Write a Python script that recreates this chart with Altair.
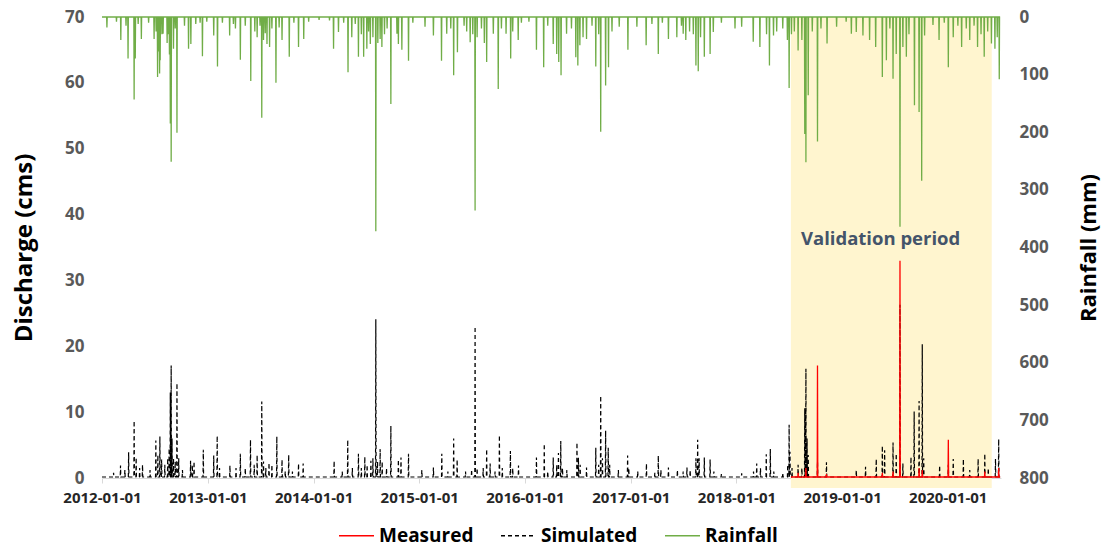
import altair as alt
import pandas as pd

# ---------------- data ----------------
rain_dates = [
    "2012-01-18", "2012-02-20", "2012-03-06", "2012-03-24", "2012-03-31", "2012-04-21", "2012-04-25", "2012-05-05",
    "2012-05-16", "2012-06-10", "2012-06-29", "2012-07-06", "2012-07-11", "2012-07-15", "2012-07-18", "2012-07-20",
    "2012-07-26", "2012-07-30", "2012-08-13", "2012-08-17", "2012-08-21", "2012-08-24", "2012-08-27", "2012-09-04",
    "2012-09-10", "2012-09-16", "2012-10-12", "2012-10-26", "2012-11-03", "2012-11-20", "2012-12-05", "2012-12-13",
    "2012-12-28",
    "2013-01-21", "2013-02-03", "2013-02-20", "2013-03-17", "2013-03-30", "2013-04-06", "2013-04-23", "2013-05-10",
    "2013-05-29", "2013-06-12", "2013-06-20", "2013-06-30", "2013-07-06", "2013-07-12", "2013-07-18", "2013-07-24",
    "2013-08-02", "2013-08-10", "2013-08-24", "2013-09-04", "2013-09-14", "2013-10-09", "2013-10-25", "2013-11-10",
    "2013-11-28", "2013-12-15",
    "2014-01-20", "2014-02-25", "2014-03-11", "2014-03-28", "2014-04-15", "2014-04-30", "2014-05-13", "2014-05-25",
    "2014-06-05", "2014-06-15", "2014-06-23", "2014-07-04", "2014-07-10", "2014-07-16", "2014-07-25", "2014-08-04",
    "2014-08-11", "2014-08-19", "2014-08-25", "2014-09-03", "2014-09-12", "2014-09-25", "2014-10-16", "2014-10-21",
    "2014-11-02", "2014-11-25", "2014-12-10",
    "2015-01-21", "2015-02-19", "2015-03-19", "2015-04-06", "2015-04-20", "2015-04-30", "2015-05-13", "2015-06-05",
    "2015-06-14", "2015-06-26", "2015-07-05", "2015-07-13", "2015-07-20", "2015-08-04", "2015-08-14", "2015-08-22",
    "2015-09-14", "2015-10-01", "2015-10-12", "2015-10-28", "2015-11-13", "2015-11-20", "2015-12-09", "2015-12-20",
    "2016-01-15", "2016-02-10", "2016-03-06", "2016-03-20", "2016-04-08", "2016-04-20", "2016-04-27", "2016-05-05",
    "2016-05-24", "2016-06-10", "2016-06-25", "2016-07-02", "2016-07-09", "2016-07-20", "2016-08-01", "2016-08-20",
    "2016-09-02", "2016-09-12", "2016-09-19", "2016-10-06", "2016-10-16", "2016-10-28", "2016-11-22", "2016-12-22",
    "2017-01-22", "2017-02-23", "2017-03-15", "2017-04-06", "2017-04-20", "2017-05-11", "2017-06-09", "2017-06-25",
    "2017-07-01", "2017-07-10", "2017-07-23", "2017-08-05", "2017-08-14", "2017-08-22", "2017-08-30", "2017-09-12",
    "2017-10-02", "2017-10-13", "2017-11-10", "2017-12-27",
    "2018-01-19", "2018-02-28", "2018-03-23", "2018-04-15", "2018-04-25", "2018-05-09", "2018-05-20", "2018-06-10",
    "2018-06-26", "2018-07-02", "2018-07-10", "2018-07-20", "2018-08-02", "2018-08-15", "2018-08-25", "2018-08-29",
    "2018-09-06", "2018-09-20", "2018-10-08", "2018-10-20", "2018-11-10", "2018-12-13",
    "2019-01-15", "2019-02-02", "2019-02-19", "2019-03-14", "2019-04-06", "2019-04-27", "2019-05-20", "2019-06-03",
    "2019-06-15", "2019-06-26", "2019-07-07", "2019-07-20", "2019-07-30", "2019-08-11", "2019-08-20", "2019-09-08",
    "2019-09-24", "2019-10-03", "2019-10-13", "2019-11-11", "2019-12-02", "2019-12-20",
    "2020-01-03", "2020-01-20", "2020-02-05", "2020-02-18", "2020-03-05", "2020-03-17", "2020-04-01", "2020-04-13",
    "2020-04-25", "2020-05-06", "2020-05-18", "2020-05-31", "2020-06-12", "2020-06-20", "2020-06-27",
]
rain_mm = [
    18, 8, 40, 15, 72, 143, 72, 12,
    38, 10, 38, 25, 104, 60, 98, 75,
    30, 29, 45, 30, 65, 185, 251, 55,
    20, 201, 15, 55, 47, 12, 10, 68,
    8,
    32, 86, 10, 32, 12, 20, 74, 15,
    111, 25, 35, 15, 175, 40, 28, 47,
    52, 20, 114, 18, 40, 69, 10, 52,
    38, 8,
    5, 6, 55, 26, 10, 96, 35, 12,
    69, 30, 69, 55, 25, 47, 35, 372,
    45, 38, 52, 30, 20, 151, 29, 47,
    57, 76, 10,
    17, 32, 76, 29, 20, 101, 61, 15,
    25, 44, 30, 336, 35, 20, 45, 78,
    29, 125, 20, 29, 72, 25, 40, 10,
    8, 57, 87, 15, 47, 64, 78, 101,
    29, 20, 70, 84, 49, 35, 38, 15,
    86, 30, 199, 119, 87, 25, 17, 57,
    17, 49, 12, 64, 10, 38, 35, 15,
    29, 40, 25, 30, 84, 94, 35, 69,
    64, 26, 10, 20,
    17, 43, 52, 30, 84, 32, 25, 20,
    40, 123, 30, 25, 58, 40, 203, 252,
    136, 25, 216, 20, 46, 17,
    8, 29, 26, 32, 40, 52, 104, 75,
    20, 107, 64, 364, 52, 69, 30, 153,
    165, 284, 32, 14, 40, 10,
    87, 35, 15, 52, 20, 40, 15, 52,
    30, 69, 25, 46, 55, 35, 108,
]

sim_dates = [
    "2012-02-10", "2012-03-05", "2012-03-20", "2012-04-02", "2012-04-21", "2012-04-28", "2012-05-10", "2012-05-20",
    "2012-06-15", "2012-07-05", "2012-07-12", "2012-07-19", "2012-07-25", "2012-08-05", "2012-08-15", "2012-08-20",
    "2012-08-24", "2012-08-27", "2012-08-30", "2012-09-04", "2012-09-10", "2012-09-16", "2012-09-22", "2012-10-05",
    "2012-11-02", "2012-11-08", "2012-11-14", "2012-12-16",
    "2013-01-21", "2013-02-02", "2013-02-10", "2013-03-18", "2013-04-08", "2013-04-23", "2013-05-10", "2013-05-28",
    "2013-06-10", "2013-06-20", "2013-07-06", "2013-07-12", "2013-07-20", "2013-07-31", "2013-08-10", "2013-08-27",
    "2013-09-14", "2013-09-25", "2013-10-07", "2013-10-20", "2013-11-10", "2013-11-26",
    "2014-03-13", "2014-04-10", "2014-04-29", "2014-05-15", "2014-06-05", "2014-06-15", "2014-06-27", "2014-07-05",
    "2014-07-18", "2014-07-25", "2014-08-04", "2014-08-10", "2014-08-19", "2014-08-26", "2014-09-10", "2014-09-25",
    "2014-10-21", "2014-10-30", "2014-11-25",
    "2015-01-10", "2015-02-19", "2015-03-20", "2015-04-10", "2015-04-30", "2015-05-12", "2015-06-10", "2015-07-01",
    "2015-07-13", "2015-07-20", "2015-08-10", "2015-08-22", "2015-09-03", "2015-09-20", "2015-10-05", "2015-10-15",
    "2015-11-12", "2015-11-20", "2015-12-10",
    "2016-02-10", "2016-03-08", "2016-03-20", "2016-04-08", "2016-04-20", "2016-04-26", "2016-05-04", "2016-05-10",
    "2016-05-25", "2016-06-29", "2016-07-04", "2016-07-10", "2016-08-01", "2016-09-02", "2016-09-12", "2016-09-19",
    "2016-09-25", "2016-10-06", "2016-10-15", "2016-10-20", "2016-11-19", "2016-12-21", "2016-12-25",
    "2017-01-25", "2017-02-24", "2017-03-25", "2017-04-06", "2017-04-15", "2017-05-11", "2017-06-11", "2017-07-01",
    "2017-07-14", "2017-07-25", "2017-08-14", "2017-08-20", "2017-08-25", "2017-09-12", "2017-10-02", "2017-10-15",
    "2017-11-10",
    "2018-01-19", "2018-03-01", "2018-03-12", "2018-03-25", "2018-04-14", "2018-04-28", "2018-05-10", "2018-06-10",
    "2018-06-27", "2018-07-02", "2018-07-05", "2018-07-12", "2018-08-02", "2018-08-15", "2018-08-25", "2018-08-29",
    "2018-09-02", "2018-09-06", "2018-10-08", "2018-11-08",
    "2019-02-19", "2019-03-23", "2019-04-29", "2019-05-20", "2019-05-28", "2019-06-26", "2019-07-07", "2019-07-20",
    "2019-07-30", "2019-08-27", "2019-09-07", "2019-09-24", "2019-10-05", "2019-10-10", "2019-12-04",
    "2020-01-03", "2020-01-20", "2020-02-24", "2020-03-17", "2020-04-15", "2020-05-08", "2020-05-20", "2020-06-14",
    "2020-06-25",
]
sim_cms = [
    0.8, 1.9, 1.2, 3.9, 8.7, 3.1, 1.5, 2.0,
    1.2, 5.7, 3.5, 6.3, 2.8, 2.0, 3.0, 4.5,
    13.0, 17.1, 6.0, 3.0, 2.5, 14.4, 3.0, 1.2,
    2.6, 2.0, 2.5, 4.3,
    3.4, 6.4, 1.5, 1.9, 1.5, 3.7, 1.5, 5.8,
    2.0, 3.5, 11.6, 2.5, 1.5, 2.3, 2.0, 6.3,
    2.8, 1.0, 3.5, 1.0, 2.2, 2.2,
    2.6, 1.0, 5.8, 1.5, 3.7, 1.5, 3.2, 2.0,
    2.6, 3.0, 24.1, 2.5, 4.4, 2.5, 1.5, 7.9,
    2.8, 3.1, 3.7,
    1.2, 1.6, 3.7, 1.0, 6.0, 2.8, 1.0, 1.3,
    23.0, 1.5, 1.5, 4.4, 2.2, 1.0, 6.5, 1.5,
    4.1, 1.5, 1.9,
    3.1, 5.2, 1.0, 3.1, 2.0, 3.8, 5.6, 1.5,
    1.2, 5.4, 3.1, 2.0, 1.6, 4.6, 2.0, 12.5,
    3.0, 7.2, 4.6, 2.0, 1.2, 3.4, 1.5,
    1.0, 2.2, 0.8, 3.4, 1.2, 1.6, 1.2, 1.0,
    1.6, 1.2, 3.0, 5.8, 3.0, 3.1, 2.8, 1.0,
    0.6,
    0.7, 1.0, 2.2, 1.5, 3.6, 4.4, 1.0, 0.8,
    2.0, 8.1, 4.0, 1.5, 2.0, 1.5, 10.6, 16.6,
    6.0, 3.5, 2.5, 2.4,
    1.2, 1.7, 2.9, 4.9, 4.2, 5.4, 3.7, 26.3,
    2.2, 3.2, 10.1, 11.7, 20.3, 3.0, 1.9,
    2.0, 2.9, 2.9, 1.2, 2.9, 3.7, 1.5, 2.9,
    5.9,
]

obs_dates = [
    "2018-08-02", "2018-08-29", "2018-10-08", "2018-11-08", "2019-05-20", "2019-06-26",
    "2019-07-20", "2019-09-24", "2019-10-05", "2020-01-03", "2020-05-08", "2020-06-25",
]
obs_cms = [0.8, 1.5, 17.1, 0.6, 0.8, 1.0, 33.0, 1.5, 1.2, 5.8, 1.0, 1.5]

sim_base = 0.15
obs_base = 0.15
series_names = ["Measured", "Simulated", "Rainfall"]
series_colors = ["#FF0000", "#000000", "#70AD47"]
valid_start, valid_end = "2018/07/08", "2020/06/01"
valid_label = "Validation period"

# ---------------- build daily tables ----------------
days = pd.date_range("2012-01-01", "2020-06-30", freq="D")


def daily(dates, vals, base, start=None):
    s = pd.Series(float(base), index=days)
    ev = pd.Series(vals, index=pd.to_datetime(dates), dtype=float).groupby(level=0).max()
    s.loc[ev.index] = ev.values
    if start is not None:
        s = s[s.index >= pd.Timestamp(start)]
    return pd.DataFrame({"date": s.index.strftime("%Y/%m/%d"), "value": s.values})


rain_df = daily(rain_dates, rain_mm, 0.0).assign(series="Rainfall")
sim_df = daily(sim_dates, sim_cms, sim_base).assign(series="Simulated")
obs_df = daily(obs_dates, obs_cms, obs_base, start=valid_start).assign(series="Measured")

FONT = "Open Sans"
W, H = 899, 461

x_dom = [alt.DateTime(year=2012, month=1, date=1), alt.DateTime(year=2020, month=7, date=3)]
x_vals = [alt.DateTime(year=y, month=1, date=1) for y in range(2012, 2021)]

x_enc = alt.X(
    "date:T",
    scale=alt.Scale(domain=x_dom),
    axis=alt.Axis(
        values=x_vals, format="%Y-%m-%d", title=None, grid=False,
        labelFontSize=15, labelFontWeight="bold", labelColor="#262626", labelFont=FONT,
        labelPadding=7, domainColor="#D9D9D9", tickColor="#D9D9D9", tickSize=5, labelFlush=False,
    ),
)

legend_cfg = alt.Legend(
    title=None, orient="none", direction="horizontal", legendX=236, legendY=500,
    symbolType="stroke", symbolSize=1225, symbolStrokeWidth=1.5,
    labelFontSize=19, labelFontWeight="bold", labelFont=FONT, labelColor="#000000",
    labelOffset=4, columnPadding=24,
)
color_enc = alt.Color(
    "series:N", scale=alt.Scale(domain=series_names, range=series_colors), legend=legend_cfg
)
dash_enc = alt.StrokeDash(
    "series:N", scale=alt.Scale(domain=series_names, range=[[1, 0], [4, 3], [1, 0]]), legend=legend_cfg
)

shade = alt.Chart(pd.DataFrame({"s": [valid_start], "e": [valid_end]})).mark_rect(
    color="#FFF5CF"
).encode(x=alt.X("s:T", scale=alt.Scale(domain=x_dom)), x2="e:T", y=alt.value(0), y2=alt.value(H + 10))

rain = alt.Chart(rain_df).mark_line(strokeWidth=1.3, interpolate="linear").encode(
    x=x_enc,
    y=alt.Y(
        "value:Q",
        scale=alt.Scale(domain=[0, 800], reverse=True, nice=False),
        axis=alt.Axis(
            orient="right", values=list(range(0, 801, 100)), title="Rainfall (mm)", grid=False,
            domain=False, ticks=False, labelFontSize=17, labelFontWeight="bold", labelColor="#595959",
            labelFont=FONT, labelPadding=18, titleFontSize=22, titleFontWeight="bold", titleFont=FONT,
            titleColor="#000000", titleAngle=270, titleX=87, titleY=H / 2,
            titleAlign="center", titleBaseline="middle",
        ),
    ),
    color=color_enc,
    strokeDash=dash_enc,
)

y_left = alt.Y(
    "value:Q",
    scale=alt.Scale(domain=[0, 70], nice=False),
    axis=alt.Axis(
        values=list(range(0, 71, 10)), title="Discharge (cms)", gridColor="#D9D9D9",
        domain=False, ticks=False, labelFontSize=17, labelFontWeight="bold", labelColor="#595959",
        labelFont=FONT, labelPadding=18, titleFontSize=24, titleFontWeight="bold", titleFont=FONT,
        titleColor="#000000", titleX=-78, titleY=H / 2, titleAngle=270,
        titleAlign="center", titleBaseline="middle",
    ),
)

sim = alt.Chart(sim_df).mark_line(strokeWidth=1.2).encode(
    x=x_enc, y=y_left, color=color_enc, strokeDash=dash_enc
)
obs = alt.Chart(obs_df).mark_line(strokeWidth=1.3).encode(
    x=x_enc, y=y_left, color=color_enc, strokeDash=dash_enc
)
discharge = alt.layer(sim, obs)

label = alt.Chart(pd.DataFrame({"d": ["2019/05/14"], "t": [valid_label]})).mark_text(
    font=FONT, fontSize=18.5, fontWeight="bold", color="#44546A", align="center", baseline="middle"
).encode(x=alt.X("d:T", scale=alt.Scale(domain=x_dom)), y=alt.value(222), text="t:N")

chart = (
    alt.layer(shade, rain, discharge, label)
    .resolve_scale(y="independent")
    .properties(
        width=W, height=H,
        autosize=alt.AutoSizeParams(type="none"),
        padding={"left": 94, "top": 9, "right": 100, "bottom": 68},
    )
    .configure_view(stroke=None)
)

chart.save("out.html", embed_options={"renderer": "svg", "actions": False})
